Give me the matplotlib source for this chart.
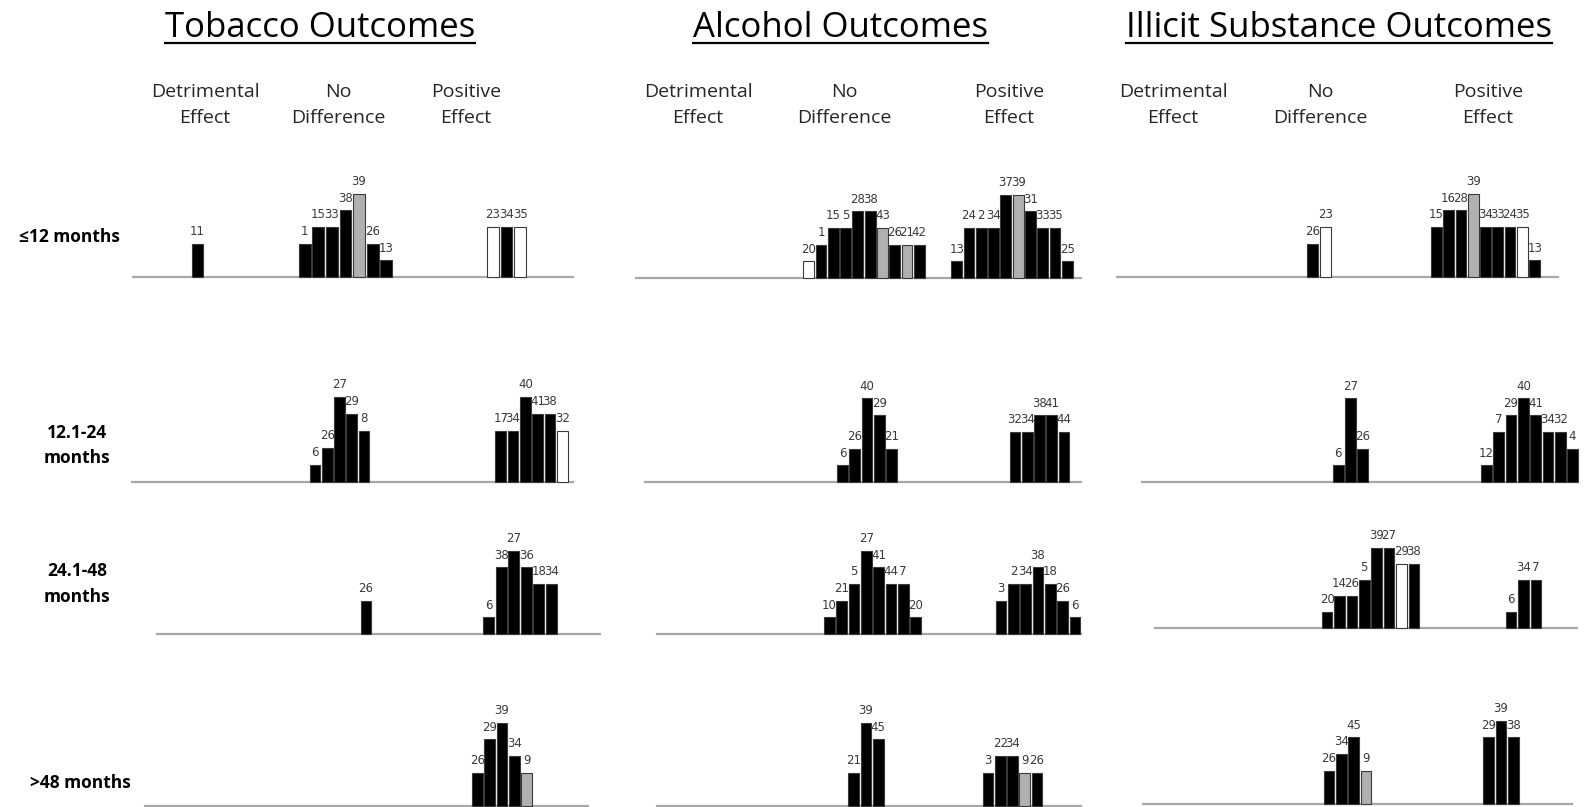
import matplotlib
matplotlib.use("Agg")
import matplotlib.pyplot as plt
from matplotlib.lines import Line2D

FIG_W, FIG_H, DPI = 1595, 807, 100
plt.rcParams['font.family'] = ['Open Sans', 'DejaVu Sans']

# ---------------- text ----------------
outcomes = ["Tobacco Outcomes", "Alcohol Outcomes", "Illicit Substance Outcomes"]
periods = ["\u226412 months", "12.1-24\nmonths", "24.1-48\nmonths", ">48 months"]
effects = ["Detrimental\nEffect", "No\nDifference", "Positive\nEffect"]

# ---------------- data ----------------
# study ids, evidence level (bar height), fill code (k=black, g=grey, w=white)
# Tobacco
tob1_det_ids = [11];                          tob1_det_h = [2];                       tob1_det_f = "k"
tob1_nd_ids = [1, 15, 33, 38, 39, 26, 13];    tob1_nd_h = [2, 3, 3, 4, 5, 2, 1];      tob1_nd_f = "kkkkgkk"
tob1_pos_ids = [23, 34, 35];                  tob1_pos_h = [3, 3, 3];                 tob1_pos_f = "wkw"
tob2_nd_ids = [6, 26, 27, 29, 8];             tob2_nd_h = [1, 2, 5, 4, 3];            tob2_nd_f = "kkkkk"
tob2_pos_ids = [17, 34, 40, 41, 38, 32];      tob2_pos_h = [3, 3, 5, 4, 4, 3];        tob2_pos_f = "kkkkkw"
tob3_nd_ids = [26];                           tob3_nd_h = [2];                        tob3_nd_f = "k"
tob3_pos_ids = [6, 38, 27, 36, 18, 34];       tob3_pos_h = [1, 4, 5, 4, 3, 3];        tob3_pos_f = "kkkkkk"
tob4_pos_ids = [26, 29, 39, 34, 9];           tob4_pos_h = [2, 4, 5, 3, 2];           tob4_pos_f = "kkkkg"
# Alcohol
alc1_nd_ids = [20, 1, 15, 5, 28, 38, 43, 26, 21, 42]
alc1_nd_h = [1, 2, 3, 3, 4, 4, 3, 2, 2, 2]
alc1_nd_f = "wkkkkkgkgk"
alc1_pos_ids = [13, 24, 2, 34, 37, 39, 31, 33, 35, 25]
alc1_pos_h = [1, 3, 3, 3, 5, 5, 4, 3, 3, 1]
alc1_pos_f = "kkkkkgkkkk"
alc2_nd_ids = [6, 26, 40, 29, 21];            alc2_nd_h = [1, 2, 5, 4, 2];            alc2_nd_f = "kkkkk"
alc2_pos_ids = [32, 34, 38, 41, 44];          alc2_pos_h = [3, 3, 4, 4, 3];           alc2_pos_f = "kkkkk"
alc3_nd_ids = [10, 21, 5, 27, 41, 44, 7, 20]; alc3_nd_h = [1, 2, 3, 5, 4, 3, 3, 1];   alc3_nd_f = "kkkkkkkk"
alc3_pos_ids = [3, 2, 34, 38, 18, 26, 6];     alc3_pos_h = [2, 3, 3, 4, 3, 2, 1];     alc3_pos_f = "kkkkkkk"
alc4_nd_ids = [21, 39, 45];                   alc4_nd_h = [2, 5, 4];                  alc4_nd_f = "kkk"
alc4_pos_ids = [3, 22, 34, 9, 26];            alc4_pos_h = [2, 3, 3, 2, 2];           alc4_pos_f = "kkkgk"
# Illicit substances
ill1_nd_ids = [26, 23];                       ill1_nd_h = [2, 3];                     ill1_nd_f = "kw"
ill1_pos_ids = [15, 16, 28, 39, 34, 33, 24, 35, 13]
ill1_pos_h = [3, 4, 4, 5, 3, 3, 3, 3, 1]
ill1_pos_f = "kkkgkkkwk"
ill2_nd_ids = [6, 27, 26];                    ill2_nd_h = [1, 5, 2];                  ill2_nd_f = "kkk"
ill2_pos_ids = [12, 7, 29, 40, 41, 34, 32, 4]; ill2_pos_h = [1, 3, 4, 5, 4, 3, 3, 2]; ill2_pos_f = "kkkkkkkk"
ill3_nd_ids = [20, 14, 26, 5, 39, 27, 29, 38]; ill3_nd_h = [1, 2, 2, 3, 5, 5, 4, 4];  ill3_nd_f = "kkkkkkwk"
ill3_pos_ids = [6, 34, 7];                    ill3_pos_h = [1, 3, 3];                 ill3_pos_f = "kkk"
ill4_nd_ids = [26, 34, 45, 9];                ill4_nd_h = [2, 3, 4, 2];               ill4_nd_f = "kkkg"
ill4_pos_ids = [29, 39, 38];                  ill4_pos_h = [4, 5, 4];                 ill4_pos_f = "kkk"

panels = {
    (0, 0): {"det": (tob1_det_ids, tob1_det_h, tob1_det_f), "nd": (tob1_nd_ids, tob1_nd_h, tob1_nd_f),
             "pos": (tob1_pos_ids, tob1_pos_h, tob1_pos_f)},
    (0, 1): {"nd": (tob2_nd_ids, tob2_nd_h, tob2_nd_f), "pos": (tob2_pos_ids, tob2_pos_h, tob2_pos_f)},
    (0, 2): {"nd": (tob3_nd_ids, tob3_nd_h, tob3_nd_f), "pos": (tob3_pos_ids, tob3_pos_h, tob3_pos_f)},
    (0, 3): {"pos": (tob4_pos_ids, tob4_pos_h, tob4_pos_f)},
    (1, 0): {"nd": (alc1_nd_ids, alc1_nd_h, alc1_nd_f), "pos": (alc1_pos_ids, alc1_pos_h, alc1_pos_f)},
    (1, 1): {"nd": (alc2_nd_ids, alc2_nd_h, alc2_nd_f), "pos": (alc2_pos_ids, alc2_pos_h, alc2_pos_f)},
    (1, 2): {"nd": (alc3_nd_ids, alc3_nd_h, alc3_nd_f), "pos": (alc3_pos_ids, alc3_pos_h, alc3_pos_f)},
    (1, 3): {"nd": (alc4_nd_ids, alc4_nd_h, alc4_nd_f), "pos": (alc4_pos_ids, alc4_pos_h, alc4_pos_f)},
    (2, 0): {"nd": (ill1_nd_ids, ill1_nd_h, ill1_nd_f), "pos": (ill1_pos_ids, ill1_pos_h, ill1_pos_f)},
    (2, 1): {"nd": (ill2_nd_ids, ill2_nd_h, ill2_nd_f), "pos": (ill2_pos_ids, ill2_pos_h, ill2_pos_f)},
    (2, 2): {"nd": (ill3_nd_ids, ill3_nd_h, ill3_nd_f), "pos": (ill3_pos_ids, ill3_pos_h, ill3_pos_f)},
    (2, 3): {"nd": (ill4_nd_ids, ill4_nd_h, ill4_nd_f), "pos": (ill4_pos_ids, ill4_pos_h, ill4_pos_f)},
}

# ---------------- layout (pixels) ----------------
# (line left, line right, baseline y, bar pitch, unit height, group centres)
layout = {
    (0, 0): (133, 573, 277, 13.6, 16.7, {"det": 197.5, "nd": 345.5, "pos": 506.5}),
    (0, 1): (132, 573, 482, 12.3, 17.0, {"nd": 339.5, "pos": 531.5}),
    (0, 2): (157, 600, 634, 12.5, 16.7, {"nd": 366.0, "pos": 520.0}),
    (0, 3): (145, 588, 806, 12.3, 16.7, {"pos": 502.0}),
    (1, 0): (636, 1081, 278, 12.3, 16.7, {"nd": 864.0, "pos": 1012.0}),
    (1, 1): (645, 1081, 482, 12.3, 16.7, {"nd": 867.0, "pos": 1039.5}),
    (1, 2): (657, 1081, 634, 12.3, 16.7, {"nd": 872.5, "pos": 1038.0}),
    (1, 3): (657, 1081, 806, 12.3, 16.7, {"nd": 866.0, "pos": 1012.5}),
    (2, 0): (1117, 1558, 277, 12.3, 16.7, {"nd": 1319.0, "pos": 1485.5}),
    (2, 1): (1142, 1577, 482, 12.3, 16.7, {"nd": 1350.5, "pos": 1529.5}),
    (2, 2): (1155, 1577, 628, 12.4, 16.0, {"nd": 1370.5, "pos": 1523.5}),
    (2, 3): (1143, 1572, 804, 12.3, 16.7, {"nd": 1347.5, "pos": 1501.0}),
}
title_x = [320, 841, 1339]
header_x = [[205, 338, 466], [698, 844, 1009], [1173, 1320, 1488]]
period_xy = [(69, 237), (77, 445), (77, 584), (80, 783)]

FILL = {"k": "#000000", "g": "#b0b0b0", "w": "#ffffff"}

fig = plt.figure(figsize=(FIG_W / DPI, FIG_H / DPI), dpi=DPI)


def fx(px):
    return px / FIG_W


def fy(py):
    return 1 - py / FIG_H


AXH = 110
for key, groups in panels.items():
    l, r, base, pitch, unit, centres = layout[key]
    ax = fig.add_axes([fx(l), fy(base), fx(r - l), AXH / FIG_H])
    ax.set_xlim(0, (r - l) / pitch)
    ax.set_ylim(0, AXH / unit)
    ax.axis('off')
    ax.axhline(0, color='#a8a8a8', lw=1.6, clip_on=False, zorder=1)
    for g, (ids, hs, fills) in groups.items():
        c = (centres[g] - l) / pitch
        n = len(ids)
        xs = [c + i - (n - 1) / 2 for i in range(n)]
        ax.bar(xs, hs, width=0.87, color=[FILL[f] for f in fills],
               edgecolor='#3a3a3a', linewidth=0.8, zorder=2, clip_on=False)
        for x, h, s in zip(xs, hs, ids):
            ax.annotate(str(s), (x, h), xytext=(0, 4), textcoords='offset points',
                        ha='center', va='bottom', fontsize=8.5, color='#3a3a3a',
                        family=['DejaVu Sans'])

# titles with underline
title_texts = []
for t, x in zip(outcomes, title_x):
    title_texts.append(fig.text(fx(x), fy(37), t, ha='center', va='baseline',
                                fontsize=25, color='black'))

# column headers
for col in range(3):
    for e, x in zip(effects, header_x[col]):
        fig.text(fx(x), fy(105), e, ha='center', va='center', fontsize=14,
                 color='#262626', linespacing=1.55)

# row labels
for p, (x, y) in zip(periods, period_xy):
    fig.text(fx(x), fy(y), p, ha='center', va='center', fontsize=12.5,
             fontweight='bold', color='black', linespacing=1.5)

fig.canvas.draw()
renderer = fig.canvas.get_renderer()
for t in title_texts:
    bb = t.get_window_extent(renderer)
    fig.add_artist(Line2D([bb.x0 / FIG_W, bb.x1 / FIG_W], [fy(43), fy(43)],
                          transform=fig.transFigure, color='black', lw=1.6))

fig.savefig("out.png", dpi=DPI, facecolor='white')
